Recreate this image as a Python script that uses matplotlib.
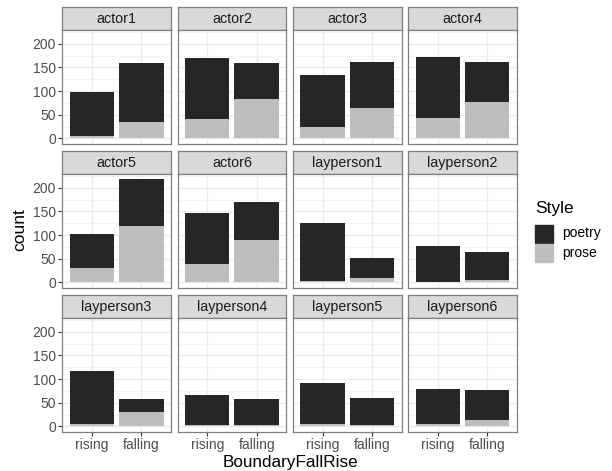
import matplotlib.pyplot as plt
from matplotlib.patches import Rectangle

plt.rcParams['font.family'] = ['Liberation Sans', 'DejaVu Sans']

speakers = ['actor1', 'actor2', 'actor3', 'actor4',
            'actor5', 'actor6', 'layperson1', 'layperson2',
            'layperson3', 'layperson4', 'layperson5', 'layperson6']
boundaries = ['rising', 'falling']
styles = ['poetry', 'prose']

# counts per speaker: [rising, falling]
prose_counts = [[5, 34], [41, 84], [25, 65], [44, 77],
                [31, 120], [39, 90], [4, 9], [2, 5],
                [5, 31], [3, 3], [5, 3], [5, 14]]
poetry_counts = [[93, 125], [129, 75], [109, 97], [128, 85],
                 [72, 98], [108, 79], [122, 43], [75, 60],
                 [112, 28], [64, 54], [86, 58], [75, 63]]

colors = {'poetry': '#262626', 'prose': '#BEBEBE'}

W, H = 612, 471
fig = plt.figure(figsize=(W / 100, H / 100), dpi=100)


def box(left, top, width, height):
    # pixel box (top-left origin) -> figure fraction rect
    return [left / W, 1 - (top + height) / H, width / W, height / H]


col_left = [62.3, 177.6, 292.9, 408.2]
row_top = [6.7, 150.7, 294.7]
pw, strip_h, ph = 108.7, 23, 114
border = '#7F7F7F'

for i, name in enumerate(speakers):
    r, c = divmod(i, 4)
    left, top = col_left[c], row_top[r]

    strip = fig.add_axes(box(left, top, pw, strip_h))
    strip.set_facecolor('#D9D9D9')
    strip.set_xticks([])
    strip.set_yticks([])
    for s in strip.spines.values():
        s.set_color(border)
        s.set_linewidth(0.9)
    strip.text(0.5, 0.48, name, ha='center', va='center', fontsize=10.3,
               color='#1A1A1A', transform=strip.transAxes)

    ax = fig.add_axes(box(left, top + strip_h, pw, ph))
    x = [1, 2]
    ax.bar(x, prose_counts[i], width=0.9, color=colors['prose'], zorder=3)
    ax.bar(x, poetry_counts[i], width=0.9, bottom=prose_counts[i],
           color=colors['poetry'], zorder=3)
    ax.set_xlim(0.4, 2.6)
    ax.set_ylim(-11, 229.5)
    ax.set_xticks(x)
    ax.set_yticks([0, 50, 100, 150, 200])
    ax.set_yticks([25, 75, 125, 175, 225], minor=True)
    ax.grid(True, which='major', color='#EBEBEB', linewidth=1.0, zorder=0)
    ax.grid(True, which='minor', axis='y', color='#F2F2F2', linewidth=0.6, zorder=0)
    ax.set_axisbelow(True)
    for s in ax.spines.values():
        s.set_color(border)
        s.set_linewidth(0.9)
    ax.tick_params(which='minor', length=0)
    ax.tick_params(which='major', length=3, color='#333333', width=0.8,
                   labelsize=10, labelcolor='#4D4D4D', pad=1.5)
    if c == 0:
        ax.set_yticklabels([0, 50, 100, 150, 200])
    else:
        ax.tick_params(axis='y', length=0, labelleft=False)
    if r == 2:
        ax.set_xticklabels(boundaries)
    else:
        ax.tick_params(axis='x', length=0, labelbottom=False)

fig.text(20 / W, 1 - 230 / H, 'count', rotation=90, ha='center', va='center',
         fontsize=12.5, color='black')
fig.text(290 / W, 1 - 467 / H, 'BoundaryFallRise', ha='center', va='baseline',
         fontsize=12.3, color='black')

# legend
fig.text(535 / W, 1 - 208 / H, 'Style', ha='left', va='center', fontsize=12.5)
for k, st in enumerate(styles):
    ktop = 225 + k * 19
    fig.patches.append(Rectangle((535 / W, 1 - (ktop + 17.5) / H), 18 / W, 17.5 / H,
                                 transform=fig.transFigure, color=colors[st]))
    fig.text(562 / W, 1 - (ktop + 8.5) / H, st, ha='left', va='center', fontsize=10)

fig.savefig('out.png', dpi=100)
